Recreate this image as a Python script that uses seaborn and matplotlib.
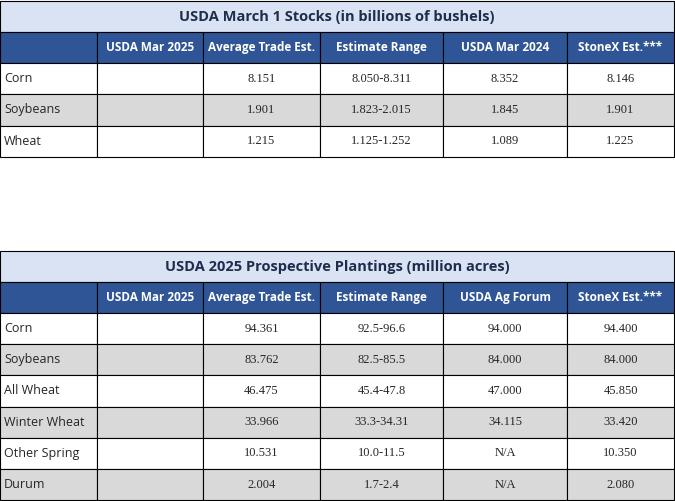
import matplotlib.pyplot as plt
import seaborn as sns
from matplotlib.patches import Rectangle

sns.set_style("white")

columns = ["", "USDA Mar 2025", "Average Trade Est.", "Estimate Range", "USDA Mar 2024", "StoneX Est.***"]
columns2 = ["", "USDA Mar 2025", "Average Trade Est.", "Estimate Range", "USDA Ag Forum", "StoneX Est.***"]

title1 = "USDA March 1 Stocks (in billions of bushels)"
rows1 = ["Corn", "Soybeans", "Wheat"]
avg1 = ["8.151", "1.901", "1.215"]
range1 = ["8.050-8.311", "1.823-2.015", "1.125-1.252"]
prev1 = ["8.352", "1.845", "1.089"]
stonex1 = ["8.146", "1.901", "1.225"]

title2 = "USDA 2025 Prospective Plantings (million acres)"
rows2 = ["Corn", "Soybeans", "All Wheat", "Winter Wheat", "Other Spring", "Durum"]
avg2 = ["94.361", "83.762", "46.475", "33.966", "10.531", "2.004"]
range2 = ["92.5-96.6", "82.5-85.5", "45.4-47.8", "33.3-34.31", "10.0-11.5", "1.7-2.4"]
forum2 = ["94.000", "84.000", "47.000", "34.115", "N/A", "N/A"]
stonex2 = ["94.400", "84.000", "45.850", "33.420", "10.350", "2.080"]

col_x = [0, 97, 203, 320, 443, 567, 674]
TITLE_BG = "#dae3f3"
HEAD_BG = "#2f5597"
GREY = "#d9d9d9"

fig = plt.figure(figsize=(6.75, 5.01), dpi=100)
ax = fig.add_axes([0, 0, 1, 1])
ax.set_xlim(0, 675)
ax.set_ylim(501, 0)
ax.axis("off")


def draw_table(top, title, header, labels, data, row_h):
    ax.add_patch(Rectangle((0, top), 674, 31, facecolor=TITLE_BG, edgecolor="black", lw=0.8))
    ax.text(337, top + 15.5, title, ha="center", va="center", fontsize=10.5,
            fontweight="bold", family="Open Sans", color="#1f2d4d")
    y = top + 31
    for i in range(6):
        ax.add_patch(Rectangle((col_x[i], y), col_x[i + 1] - col_x[i], 31,
                               facecolor=HEAD_BG, edgecolor="black", lw=0.8))
        ax.text((col_x[i] + col_x[i + 1]) / 2, y + 15.5, header[i], ha="center", va="center",
                fontsize=8.5, fontweight="bold", color="white", family="Open Sans")
    y += 31
    for r, lab in enumerate(labels):
        bg = GREY if r % 2 else "white"
        for i in range(6):
            ax.add_patch(Rectangle((col_x[i], y), col_x[i + 1] - col_x[i], row_h,
                                   facecolor=bg, edgecolor="black", lw=0.8))
        ax.text(4, y + row_h / 2, lab, ha="left", va="center", fontsize=9, family="Open Sans")
        for i, vals in enumerate(data):
            ax.text((col_x[i + 2] + col_x[i + 3]) / 2, y + row_h / 2, vals[r], ha="center",
                    va="center", fontsize=9, family="Liberation Serif")
        y += row_h


draw_table(1, title1, columns, rows1, [avg1, range1, prev1, stonex1], 31.3)
draw_table(251, title2, columns2, rows2, [avg2, range2, forum2, stonex2], 31.2)

fig.savefig("out.png", dpi=100)
